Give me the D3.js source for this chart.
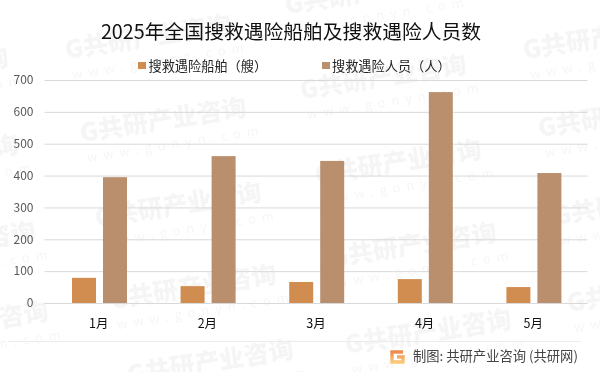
<!DOCTYPE html>
<html><head><meta charset="utf-8">
<script src="https://cdn.jsdelivr.net/npm/d3@7"></script>
<style>html,body{margin:0;padding:0;background:#fff}svg{display:block}text{font-family:"Noto Sans CJK SC","Noto Sans",sans-serif}</style>
</head><body><svg id="c" width="600" height="372"></svg>
<script>
const titleText="2025年全国搜救遇险船舶及搜救遇险人员数";
const months=["1月","2月","3月","4月","5月"];
const shipLabel="搜救遇险船舶（艘）";
const peopleLabel="搜救遇险人员（人）";
const ships=[79,53,66,75,50];
const people=[395,461,446,662,408];
const yTicks=[0,100,200,300,400,500,600,700];
const watermarks=[[-158,83],[-148,170],[-131,257],[-118,337],[65,50],[80,133],[95,218],[110,300],[127,375],[285,5],[300,90],[315,175],[330,258],[345,345],[523,50],[538,128],[553,216],[567,303]];
const footer="制图: 共研产业咨询 (共研网)";

const svg=d3.select("#c");
const x=d3.scaleBand().domain(months).range([44.5,587.5]);
const y=d3.scaleLinear().domain([0,700]).range([303,80]);
const inner=d3.scaleBand().domain(["s","p"]).range([27.5,82.5]).paddingInner(0.226);

const wm=svg.append("g").attr("opacity",0.04);
watermarks.forEach(([a,b])=>{
  const g=wm.append("g").attr("transform",`translate(${a},${b}) rotate(-9)`);
  g.append("text").attr("y",9).attr("font-size",25).attr("font-weight",900).attr("fill","#000").text("G共研产业咨询");
  g.append("text").attr("x",3).attr("y",30).attr("font-size",13).attr("letter-spacing",6).attr("fill","#000").text("www.gonyn.com");
});

svg.append("text").attr("x",291).attr("y",39).attr("text-anchor","middle").attr("font-size",19.8).attr("fill","#111").text(titleText);

const yAxis=d3.axisLeft(y).tickValues(yTicks).tickSize(-543).tickPadding(11);
const ya=svg.append("g").attr("transform","translate(44.5,0)").call(yAxis);
ya.select(".domain").remove();
ya.selectAll("line").attr("stroke","#d9d9d9").attr("stroke-width",1);
ya.selectAll("text").attr("fill","#595959").attr("font-size",12).attr("font-family","'Liberation Sans',sans-serif");

const xa=svg.append("g").attr("transform","translate(0,303)").call(d3.axisBottom(x).tickSize(0).tickPadding(16));
xa.select(".domain").remove();
xa.selectAll("text").attr("fill","#111").attr("font-size",12.5);

const grp=svg.selectAll("g.m").data(months).join("g").attr("class","m").attr("transform",d=>`translate(${x(d)},0)`);
grp.append("rect").attr("x",inner("s")).attr("width",inner.bandwidth()).attr("y",(d,i)=>y(ships[i])).attr("height",(d,i)=>y(0)-y(ships[i])).attr("fill","#d18d4f");
grp.append("rect").attr("x",inner("p")).attr("width",inner.bandwidth()).attr("y",(d,i)=>y(people[i])).attr("height",(d,i)=>y(0)-y(people[i])).attr("fill","#ba8f6d");

const leg=[[138,"#d18d4f",shipLabel,148.5],[322,"#ba8f6d",peopleLabel,332]];
leg.forEach(([lx,c,t,tx])=>{
  svg.append("rect").attr("x",lx).attr("y",62).attr("width",8).attr("height",7).attr("fill",c);
  svg.append("text").attr("x",tx).attr("y",71).attr("font-size",13.2).attr("fill","#222").text(t);
});

svg.append("line").attr("x1",8).attr("x2",581).attr("y1",341.5).attr("y2",341.5).attr("stroke","#ececec");
const defs=svg.append("defs");
const lgd=defs.append("linearGradient").attr("id","lg").attr("x1",0).attr("y1",0).attr("x2",0).attr("y2",1);
lgd.append("stop").attr("offset",0).attr("stop-color","#ee8a4e");
lgd.append("stop").attr("offset",1).attr("stop-color","#fbc97a");
svg.append("path").attr("transform","translate(390,350)").attr("d","M13 2H2V12H13V7H7").attr("fill","none").attr("stroke","url(#lg)").attr("stroke-width",3.4);
svg.append("text").attr("x",413).attr("y",360.5).attr("font-size",13.3).attr("fill","#444").text(footer);
</script></body></html>
